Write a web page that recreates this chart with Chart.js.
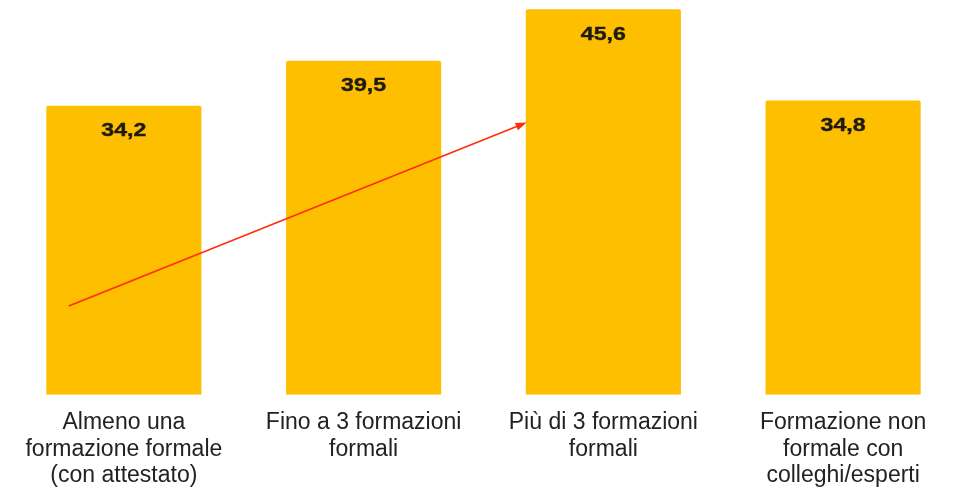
<!DOCTYPE html>
<html>
<head>
<meta charset="utf-8">
<script src="https://cdn.jsdelivr.net/npm/chart.js@4/dist/chart.umd.min.js"></script>
<style>
  html, body { margin: 0; padding: 0; background: #fff; overflow: hidden; }
  #wrap { width: 963px; height: 504px; }
</style>
</head>
<body>
<div id="wrap"><canvas id="grafico"></canvas></div>
<script>
const categorie = [
    ['Almeno una', 'formazione formale', '(con attestato)'],
    ['Fino a 3 formazioni', 'formali'],
    ['Più di 3 formazioni', 'formali'],
    ['Formazione non', 'formale con', 'colleghi/esperti']
]
const valori = [34.2, 39.5, 45.6, 34.8]
// freccia rossa: [indice categoria, valore]
const frecciaDa = [-0.23, 10.5]
const frecciaA = [1.68, 32.2]

const giallo = 'rgb(253, 191, 0)'

// etichette dei valori dentro le barre
const etichetteValori = {
    id: 'etichetteValori',
    afterDatasetsDraw(chart) {
        const ctx = chart.ctx
        const meta = chart.getDatasetMeta(0)
        ctx.save()
        ctx.font = 'bold 19px "Liberation Sans", Arial, sans-serif'
        ctx.fillStyle = '#1f1a12'
        ctx.textAlign = 'center'
        ctx.textBaseline = 'alphabetic'
        meta.data.forEach((bar, i) => {
            const testo = valori[i].toFixed(1).replace('.', ',')
            ctx.save()
            ctx.translate(bar.x, bar.y + 30.5)
            ctx.scale(1.22, 1)
            ctx.fillText(testo, 0, 0)
            ctx.lineWidth = 0.4
            ctx.strokeStyle = '#1f1a12'
            ctx.strokeText(testo, 0, 0)
            ctx.restore()
        })
        ctx.restore()
    }
}

// freccia disegnata con le scale del grafico
const freccia = {
    id: 'freccia',
    afterDatasetsDraw(chart) {
        const ctx = chart.ctx
        const x = chart.scales.x, y = chart.scales.y
        const x1 = x.getPixelForValue(frecciaDa[0]), y1 = y.getPixelForValue(frecciaDa[1])
        const x2 = x.getPixelForValue(frecciaA[0]), y2 = y.getPixelForValue(frecciaA[1])
        const ang = Math.atan2(y2 - y1, x2 - x1)
        const lung = 11, larg = 4
        ctx.save()
        ctx.strokeStyle = 'rgb(255, 45, 10)'
        ctx.fillStyle = 'rgb(255, 45, 10)'
        ctx.lineWidth = 1.6
        ctx.beginPath()
        ctx.moveTo(x1, y1)
        ctx.lineTo(x2 - Math.cos(ang) * lung * 0.8, y2 - Math.sin(ang) * lung * 0.8)
        ctx.stroke()
        ctx.beginPath()
        ctx.moveTo(x2, y2)
        ctx.lineTo(x2 - Math.cos(ang) * lung - Math.sin(ang) * larg, y2 - Math.sin(ang) * lung + Math.cos(ang) * larg)
        ctx.lineTo(x2 - Math.cos(ang) * lung + Math.sin(ang) * larg, y2 - Math.sin(ang) * lung - Math.cos(ang) * larg)
        ctx.closePath()
        ctx.fill()
        ctx.restore()
    }
}

const data = {
    labels: categorie,
    datasets: [{
        data: valori,
        backgroundColor: giallo,
        borderRadius: 2,
        borderSkipped: 'bottom',
        categoryPercentage: 1,
        barPercentage: 0.647
    }]
}

const config = {
    type: 'bar',
    data: data,
    options: {
        responsive: true,
        maintainAspectRatio: false,
        animation: false,
        layout: { padding: { left: 4, right: 0, top: 0, bottom: 0 } },
        plugins: {
            legend: { display: false },
            tooltip: { enabled: false }
        },
        scales: {
            x: {
                grid: { display: false, drawTicks: false },
                border: { display: false },
                ticks: {
                    color: '#222',
                    padding: 15,
                    maxRotation: 0,
                    autoSkip: false,
                    font: { family: '"Liberation Sans", Arial, sans-serif', size: 23, lineHeight: 1.15 }
                }
            },
            y: {
                display: false,
                min: 0,
                max: 46.7
            }
        }
    },
    plugins: [etichetteValori, freccia]
}

new Chart(document.getElementById('grafico'), config)
</script>
</body>
</html>
